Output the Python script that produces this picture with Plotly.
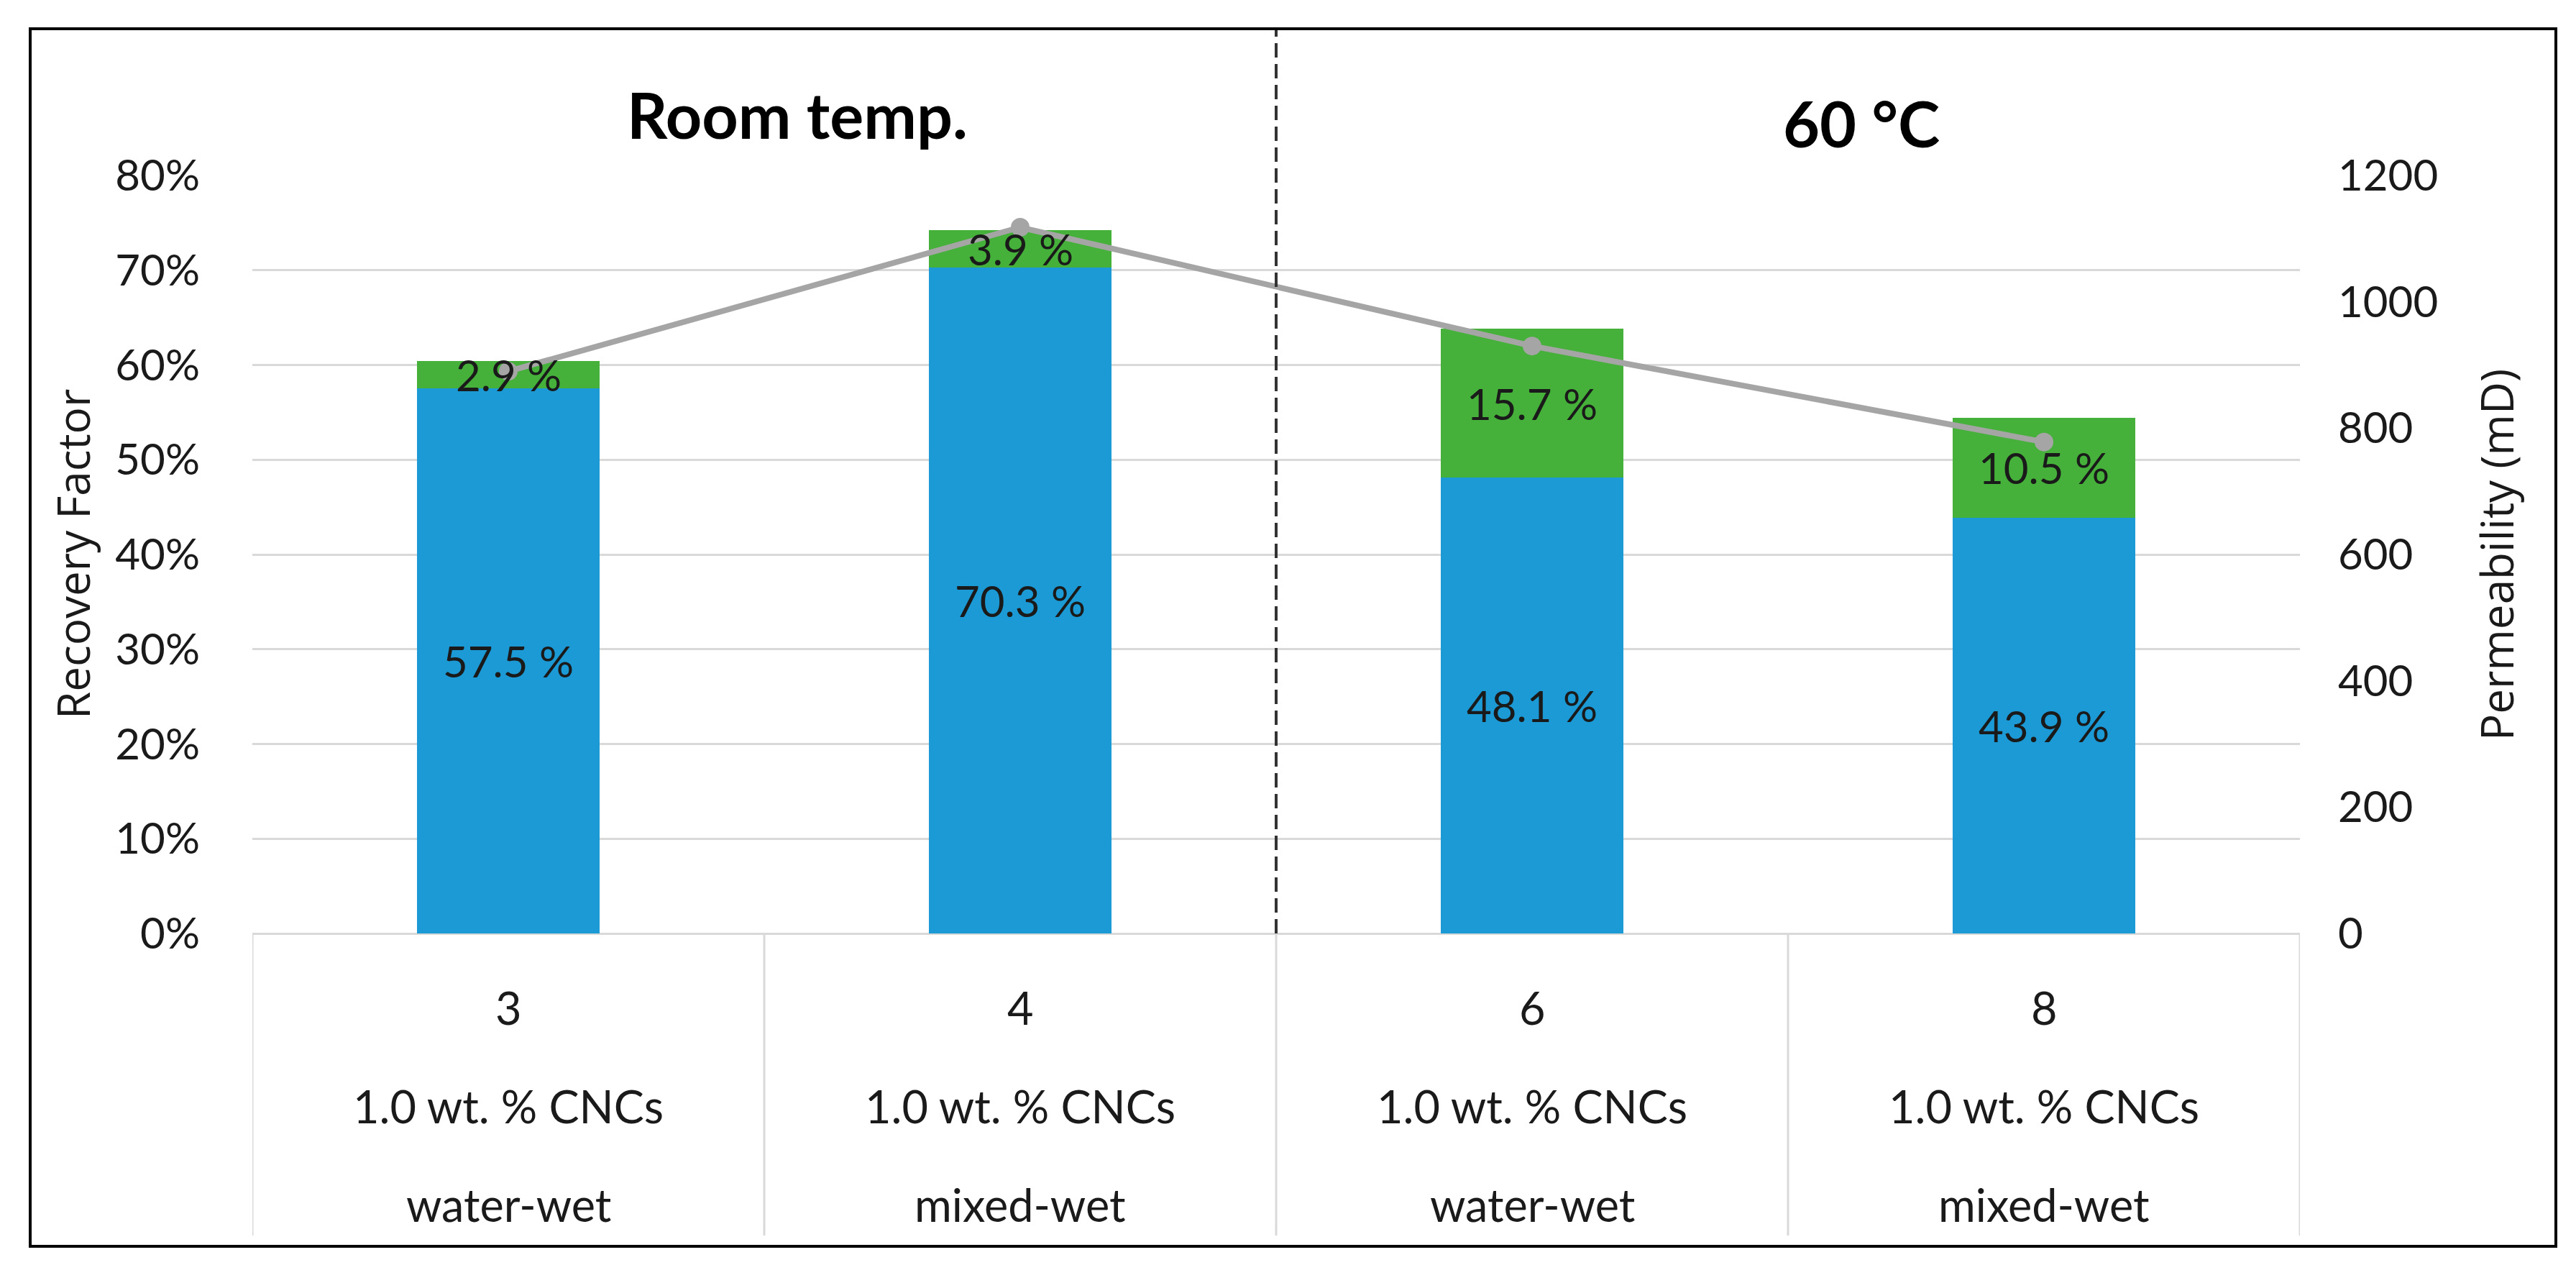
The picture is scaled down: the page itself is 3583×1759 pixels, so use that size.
import plotly.graph_objects as go

# ---- data ----
categories = ["3", "4", "6", "8"]
concentration = ["1.0 wt. % CNCs", "1.0 wt. % CNCs", "1.0 wt. % CNCs", "1.0 wt. % CNCs"]
wettability = ["water-wet", "mixed-wet", "water-wet", "mixed-wet"]
rf_base = [57.5, 70.3, 48.1, 43.9]          # blue segment (%)
rf_extra = [2.9, 3.9, 15.7, 10.5]           # green segment (%)
permeability = [890, 1118, 930, 778]        # mD
group_titles = ["Room temp.", "60 °C"]

# ---- style ----
W, H = 3583, 1759
L, R, T, B = 343, 392, 236, 469
PW, PH = W - L - R, H - T - B
BLUE = "#1B9AD6"
GREEN = "#45B03A"
GRAY_LINE = "#A5A5A5"
GRID = "#D9D9D9"
TXT = "#1a1a1a"
TICK_FONT = dict(family="Lato", size=60, color=TXT)
CAT_FONT = dict(family="Lato", size=63, color=TXT)


def px_x(p):
    return (p - L) / PW


def px_y(p):
    return (H - B - p) / PH


def cat_x(p):
    # pixel -> category index coordinate
    return (p - L) / (PW / len(categories)) - 0.5


idx = list(range(len(categories)))

fig = go.Figure()
fig.add_trace(go.Bar(x=idx, y=rf_base, marker=dict(color=BLUE, line=dict(width=0)),
                     width=0.358, hoverinfo="skip", showlegend=False))
fig.add_trace(go.Bar(x=idx, y=rf_extra, marker=dict(color=GREEN, line=dict(width=0)),
                     width=0.358, hoverinfo="skip", showlegend=False))
fig.add_trace(go.Scatter(x=idx, y=permeability, yaxis="y2", mode="lines+markers",
                         line=dict(color=GRAY_LINE, width=8),
                         marker=dict(color=GRAY_LINE, size=26),
                         hoverinfo="skip", showlegend=False))

annotations = []
# data labels
for i, (b, g) in enumerate(zip(rf_base, rf_extra)):
    annotations.append(dict(x=i, y=b / 2, xref="x", yref="y", text=f"{b:.1f} %",
                            xanchor="center", yanchor="middle",
                            showarrow=False, font=dict(family="Lato", size=60, color=TXT)))
    annotations.append(dict(x=i, y=b + g / 2, xref="x", yref="y", text=f"{g:.1f} %",
                            xanchor="center", yanchor="middle",
                            showarrow=False, font=dict(family="Lato", size=60, color=TXT)))

# category label rows
rows = [(categories, 1392), (concentration, 1529), (wettability, 1666)]
for labels, ypx in rows:
    for i, lab in enumerate(labels):
        annotations.append(dict(x=i, y=px_y(ypx), xref="x", yref="paper", text=lab,
                                showarrow=False, xanchor="center", yanchor="middle",
                                font=CAT_FONT))

# group titles
annotations.append(dict(x=cat_x(1101), y=px_y(151), xref="x", yref="paper",
                        text=f"<b>{group_titles[0]}</b>", showarrow=False,
                        xanchor="center", yanchor="middle",
                        font=dict(family="Lato", size=88, color="#000000")))
annotations.append(dict(x=cat_x(2581), y=px_y(163), xref="x", yref="paper",
                        text=f"<b>{group_titles[1]}</b>", showarrow=False,
                        xanchor="center", yanchor="middle",
                        font=dict(family="Lato", size=88, color="#000000")))

# axis titles
annotations.append(dict(x=px_x(93), y=px_y(762), xref="paper", yref="paper",
                        text="Recovery Factor", textangle=-90, showarrow=False,
                        xanchor="center", yanchor="middle",
                        font=dict(family="Open Sans", size=62, color=TXT)))
annotations.append(dict(x=px_x(3464), y=px_y(764), xref="paper", yref="paper",
                        text="Permeability (mD)", textangle=-90, showarrow=False,
                        xanchor="center", yanchor="middle",
                        font=dict(family="Open Sans", size=62, color=TXT)))

shapes = []
# outer frame
shapes.append(dict(type="rect", xref="paper", yref="paper",
                   x0=px_x(34), x1=px_x(3547), y0=px_y(1725), y1=px_y(32),
                   line=dict(color="#000000", width=4), layer="above"))
# dashed separator
shapes.append(dict(type="line", xref="x", yref="paper", x0=1.5, x1=1.5,
                   y0=0, y1=px_y(34), line=dict(color="#333333", width=4, dash="20px,9px")))
# category dividers
for xb in [-0.5, 0.5, 1.5, 2.5, 3.5]:
    shapes.append(dict(type="line", xref="x", yref="paper", x0=xb, x1=xb,
                       y0=0, y1=px_y(1710), line=dict(color=GRID, width=3)))

fig.update_layout(
    width=W, height=H,
    margin=dict(l=L, r=R, t=T, b=B, pad=0),
    paper_bgcolor="white", plot_bgcolor="white",
    barmode="stack",
    xaxis=dict(range=[-0.5, 3.5], showticklabels=False, showgrid=False,
               zeroline=False, showline=False, ticks=""),
    yaxis=dict(range=[0, 80], dtick=10, ticksuffix="%", tickfont=TICK_FONT,
               showgrid=True, gridcolor=GRID, gridwidth=3,
               zeroline=True, zerolinecolor=GRID, zerolinewidth=3,
               showline=False, ticks="", ticklabelstandoff=72),
    yaxis2=dict(range=[0, 1200], dtick=200, overlaying="y", side="right",
                tickfont=TICK_FONT, showgrid=False, zeroline=False, showline=False,
                ticks="", ticklabelstandoff=52),
    annotations=annotations,
    shapes=shapes,
    showlegend=False,
)

fig.write_html("out.html")
